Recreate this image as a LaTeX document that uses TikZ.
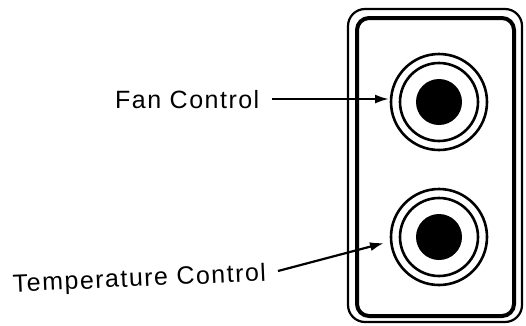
\documentclass[tikz,border=0pt]{standalone}
\usepackage{fontspec}
\setmainfont[LetterSpace=6]{Liberation Sans}
\usetikzlibrary{arrows.meta}
\begin{document}
\begin{tikzpicture}[x=1pt,y=-1pt,
  lbl/.style={inner sep=0pt,font=\fontsize{25}{29}\selectfont},
  ring/.style={circle,draw,line width=2.6pt,inner sep=0pt},
  disc/.style={circle,fill=black,inner sep=0pt,minimum size=46pt},
  pointer/.style={line width=2.2pt,-{Latex[length=14pt,width=9pt]}}]
\useasboundingbox (0,0) rectangle (526,325);
% panel frame
\draw[line width=2.2pt,rounded corners=17pt] (348,9) rectangle (522,322);
\draw[line width=4pt,rounded corners=12pt] (357,18) rectangle (514,316);
% knobs
\node[ring,minimum size=96pt] (k1o) at (439,102) {};
\node[ring,minimum size=78pt] (k1i) at (439,102) {};
\node[disc] (k1d) at (439,102) {};
\node[ring,minimum size=96pt] (k2o) at (439,237) {};
\node[ring,minimum size=78pt] (k2i) at (439,237) {};
\node[disc] (k2d) at (439,237) {};
% labels
\node[lbl,anchor=base west] (fan) at (115,108) {Fan Control};
\node[lbl,anchor=base west,rotate=2.5] (temp) at (13,292) {Temperature Control};
% arrows
\coordinate (fs) at (272,99);
\coordinate (fe) at (389,99);
\coordinate (ts) at (278,271);
\coordinate (te) at (384,243);
\draw[pointer] (fs) -- (fe);
\draw[pointer] (ts) -- (te);
\end{tikzpicture}
\end{document}
